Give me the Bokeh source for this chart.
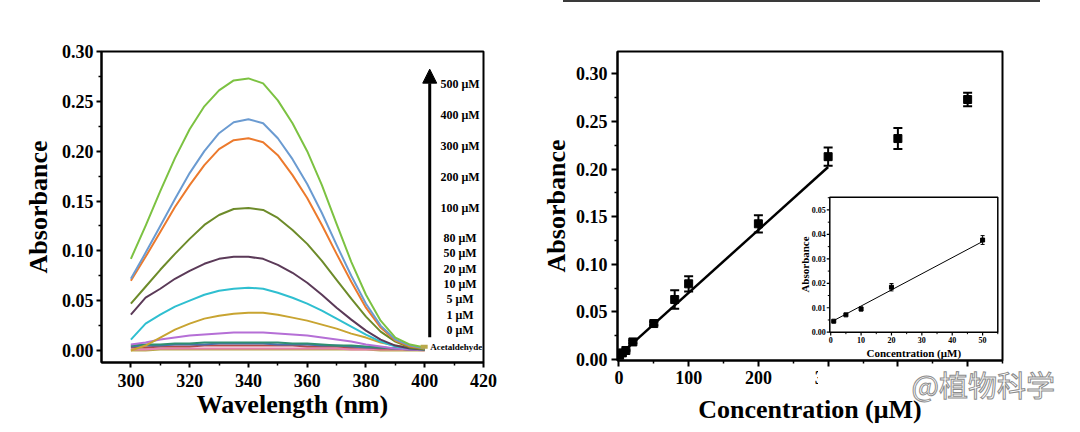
import numpy as np
from bokeh.plotting import figure
from bokeh.layouts import row, column
from bokeh.models import (Range1d, FixedTicker, NumeralTickFormatter, Arrow,
                          NormalHead, Div, Spacer)
from bokeh.core.properties import value
from bokeh.embed import file_html
from bokeh.resources import INLINE

FONT = "Liberation Serif"

# ---------------- data: spectra (left panel) ----------------
wavelength = [300, 305, 310, 315, 320, 325, 330, 335, 340, 345, 350,
              355, 360, 365, 370, 375, 380, 385, 390, 395, 400]

abs_500 = [0.092, 0.125, 0.160, 0.193, 0.222, 0.245, 0.261, 0.271, 0.273, 0.268, 0.251,
           0.228, 0.200, 0.166, 0.127, 0.089, 0.056, 0.030, 0.013, 0.006, 0.003]
abs_400 = [0.072, 0.098, 0.125, 0.152, 0.178, 0.200, 0.218, 0.229, 0.232, 0.228, 0.213,
           0.192, 0.167, 0.138, 0.106, 0.075, 0.047, 0.025, 0.011, 0.005, 0.002]
abs_300 = [0.070, 0.094, 0.119, 0.144, 0.166, 0.186, 0.202, 0.211, 0.213, 0.209, 0.196,
           0.176, 0.153, 0.126, 0.097, 0.069, 0.043, 0.023, 0.010, 0.004, 0.002]
abs_200 = [0.047, 0.064, 0.081, 0.097, 0.112, 0.126, 0.136, 0.142, 0.143, 0.141, 0.133,
           0.121, 0.107, 0.090, 0.071, 0.052, 0.034, 0.019, 0.009, 0.003, 0.001]
abs_100 = [0.036, 0.053, 0.062, 0.072, 0.080, 0.087, 0.092, 0.094, 0.094, 0.092, 0.086,
           0.078, 0.068, 0.056, 0.043, 0.031, 0.020, 0.011, 0.005, 0.002, 0.001]
abs_80 = [0.011, 0.027, 0.036, 0.044, 0.050, 0.056, 0.060, 0.062, 0.063, 0.062, 0.058,
          0.053, 0.047, 0.040, 0.032, 0.024, 0.016, 0.009, 0.004, 0.002, 0.001]
abs_50 = [0.000, 0.005, 0.013, 0.021, 0.027, 0.032, 0.035, 0.037, 0.038, 0.038, 0.036,
          0.033, 0.030, 0.026, 0.022, 0.017, 0.013, 0.008, 0.005, 0.003, 0.002]
abs_20 = [0.006, 0.008, 0.011, 0.013, 0.015, 0.016, 0.017, 0.018, 0.018, 0.018, 0.017,
          0.016, 0.015, 0.013, 0.011, 0.009, 0.006, 0.004, 0.002, 0.001, 0.001]
abs_10 = [0.005, 0.006, 0.006, 0.007, 0.007, 0.008, 0.008, 0.008, 0.008, 0.008, 0.008,
          0.007, 0.007, 0.006, 0.005, 0.005, 0.004, 0.003, 0.002, 0.002, 0.001]
abs_5 = [0.004, 0.005, 0.005, 0.006, 0.006, 0.006, 0.007, 0.007, 0.007, 0.007, 0.006,
         0.006, 0.006, 0.005, 0.005, 0.004, 0.003, 0.003, 0.002, 0.001, 0.001]
abs_1 = [0.003, 0.003, 0.004, 0.004, 0.004, 0.005, 0.005, 0.005, 0.005, 0.005, 0.005,
         0.005, 0.004, 0.004, 0.004, 0.003, 0.003, 0.002, 0.002, 0.001, 0.001]
abs_0 = [0.001, 0.001, 0.002, 0.002, 0.002, 0.002, 0.002, 0.002, 0.002, 0.002, 0.002,
         0.002, 0.002, 0.002, 0.002, 0.001, 0.001, 0.001, 0.001, 0.001, 0.000]
abs_acet = [0.000, 0.000, 0.001, 0.001, 0.001, 0.001, 0.001, 0.001, 0.001, 0.001, 0.001,
            0.001, 0.001, 0.001, 0.001, 0.001, 0.001, 0.000, 0.000, 0.000, 0.000]

spectra_labels = ["500 μM", "400 μM", "300 μM", "200 μM", "100 μM", "80 μM",
                  "50 μM", "20 μM", "10 μM", "5 μM", "1 μM", "0 μM"]
spectra_values = [abs_500, abs_400, abs_300, abs_200, abs_100, abs_80,
                  abs_50, abs_20, abs_10, abs_5, abs_1, abs_0]
acet_label = "Acetaldehyde"

wl_ticks = [300, 320, 340, 360, 380, 400, 420]
abs_ticks = [0.00, 0.05, 0.10, 0.15, 0.20, 0.25, 0.30]

# ---------------- data: calibration (right panel) ----------------
conc = [1, 5, 10, 20, 50, 80, 100, 200, 300, 400, 500]
conc_abs = [0.0045, 0.0070, 0.0095, 0.0185, 0.0378, 0.063, 0.0795, 0.1425, 0.213, 0.232, 0.273]
conc_err = [0.0003, 0.0003, 0.0008, 0.0015, 0.0018, 0.0098, 0.0080, 0.0090, 0.0096, 0.0110, 0.0070]
fit_slope = 0.00066
fit_intercept = 0.0041
fit_x_main = [0, 300]
conc_ticks = [0, 100, 200, 300, 400, 500]

inset_conc = [1, 5, 10, 20, 50]
inset_abs = [0.0045, 0.0071, 0.0095, 0.0184, 0.0377]
inset_err = [0.0002, 0.0003, 0.0008, 0.0015, 0.0018]
fit_x_inset = [1, 50]
inset_x_ticks = [0, 10, 20, 30, 40, 50]
inset_y_ticks = [0.00, 0.01, 0.02, 0.03, 0.04, 0.05]

watermark = "@植物科学"

# ---------------- styles ----------------
colors = ["#7cc242", "#6b9bd1", "#ec7a2d", "#6d8b2a", "#5b3a58", "#2fbfd0",
          "#c8a431", "#b56fd6", "#2f8f70", "#4a6fb0", "#b04a4a", "#e77fb0"]
acet_color = "#b9a94a"
TOP = 49


def style_axes(p, tick_out):
    for ax in (p.xaxis[0], p.yaxis[0]):
        ax.axis_line_width = 2
        ax.major_tick_line_width = 2
        ax.minor_tick_line_width = 1.5
        ax.major_tick_out = tick_out
        ax.major_tick_in = 0
        ax.minor_tick_out = 3
        ax.minor_tick_in = 0
        ax.major_label_text_font = FONT
        ax.major_label_text_font_style = "bold"
        ax.major_label_text_font_size = "18px"
        ax.major_label_text_color = "black"
        ax.axis_label_text_font = FONT
        ax.axis_label_text_font_style = "bold"
        ax.axis_label_text_font_size = "26px"
        ax.axis_label_text_color = "black"
    p.xgrid.visible = False
    p.ygrid.visible = False
    p.outline_line_color = "black"
    p.outline_line_width = 2
    p.outline_line_alpha = 1
    p.background_fill_color = "white"
    p.border_fill_color = "white"


# ---------------- left panel ----------------
p1 = figure(frame_width=382, frame_height=311, min_border_left=101, min_border_right=53,
            min_border_top=TOP, min_border_bottom=62,
            x_range=Range1d(290, 420), y_range=Range1d(-0.012, 0.30),
            output_backend="svg", toolbar_location=None, margin=0)
style_axes(p1, 5)
p1.xaxis.axis_label = "Wavelength (nm)"
p1.yaxis.axis_label = "Absorbance"
p1.xaxis.ticker = FixedTicker(ticks=wl_ticks, minor_ticks=[t + 10 for t in wl_ticks[:-1]])
p1.yaxis.ticker = FixedTicker(ticks=abs_ticks, minor_ticks=[t + 0.025 for t in abs_ticks[:-1]])
p1.yaxis.formatter = NumeralTickFormatter(format="0.00")
p1.xaxis.major_label_standoff = 6
p1.xaxis.axis_label_standoff = 0
p1.yaxis.major_label_standoff = 3
p1.yaxis.axis_label_standoff = 6

p1.line(wavelength, abs_acet, line_color=acet_color, line_width=2)
for vals, col in reversed(list(zip(spectra_values, colors))):
    p1.line(wavelength, vals, line_color=col, line_width=2, line_join="round")

p1.add_layout(Arrow(x_start=401.7, y_start=0.0133, x_end=401.7, y_end=0.2823,
                    line_width=3, line_color="black",
                    end=NormalHead(size=14, fill_color="black", line_color="black")))
label_y = [0.2669, 0.2358, 0.2047, 0.1739, 0.1432, 0.1127,
           0.0976, 0.0820, 0.0669, 0.0515, 0.0361, 0.0208]
p1.text(x=[412.0] * len(spectra_labels), y=label_y, text=spectra_labels,
        text_font=value(FONT), text_font_style="bold", text_font_size="12px",
        text_align="center", text_baseline="middle", text_color="black")
p1.quad(left=[398.6], right=[401.0], bottom=[0.0018], top=[0.0058],
        fill_color=acet_color, line_color=None)
p1.text(x=[401.9], y=[0.0040], text=[acet_label],
        text_font=value(FONT), text_font_style="bold", text_font_size="9px",
        text_align="left", text_baseline="middle", text_color="black")

# ---------------- right panel ----------------
p2 = figure(frame_width=385, frame_height=309, min_border_left=81, min_border_right=70,
            min_border_top=TOP, min_border_bottom=64,
            x_range=Range1d(-2, 550), y_range=Range1d(-0.001, 0.3234),
            output_backend="svg", toolbar_location=None, margin=0)
style_axes(p2, 6)
p2.xaxis.axis_label = "Concentration (μM)"
p2.yaxis.axis_label = "Absorbance"
p2.xaxis.ticker = FixedTicker(ticks=conc_ticks, minor_ticks=[t + 50 for t in conc_ticks])
p2.yaxis.ticker = FixedTicker(ticks=abs_ticks, minor_ticks=[t + 0.025 for t in abs_ticks[:-1]])
p2.yaxis.formatter = NumeralTickFormatter(format="0.00")
p2.xaxis.major_label_standoff = 4
p2.xaxis.axis_label_standoff = 8
p2.yaxis.major_label_standoff = 4
p2.yaxis.axis_label_standoff = 2

fx = np.array(fit_x_main, dtype=float)
p2.line(fx, fit_slope * fx + fit_intercept, line_color="black", line_width=2.5)

c = np.array(conc, dtype=float)
a = np.array(conc_abs)
e = np.array(conc_err)
p2.segment(x0=c, y0=a - e, x1=c, y1=a + e, line_color="black", line_width=2)
p2.scatter(c, a + e, marker="dash", size=9, line_color="black", line_width=2)
p2.scatter(c, a - e, marker="dash", size=9, line_color="black", line_width=2)
p2.scatter(c, a, marker="square", size=8, fill_color="black", line_color="black")

# ---- inset drawn in extra ranges mapped onto a sub-rectangle of the frame ----
p2.extra_x_ranges = {"ix": Range1d(-70.18, 56.55)}
p2.extra_y_ranges = {"iy": Range1d(-0.01157, 0.1148)}
IX0, IX1, IY0, IY1 = -0.3, 55.0, 0.0, 0.0552
kw = dict(x_range_name="ix", y_range_name="iy")
p2.quad(left=[IX0], right=[IX1], bottom=[IY0], top=[IY1], fill_color="white",
        line_color="black", line_width=1.5, **kw)

xt = np.array(inset_x_ticks, dtype=float)
xm = xt + 5
p2.segment(x0=xt, y0=[IY0] * len(xt), x1=xt, y1=[IY0 - 0.0013] * len(xt),
           line_color="black", line_width=1.2, **kw)
p2.segment(x0=xm, y0=[IY0] * len(xm), x1=xm, y1=[IY0 - 0.0008] * len(xm),
           line_color="black", line_width=1, **kw)
yt = np.array(inset_y_ticks, dtype=float)
ym = yt + 0.005
p2.segment(x0=[IX0] * len(yt), y0=yt, x1=[IX0 - 1.0] * len(yt), y1=yt,
           line_color="black", line_width=1.2, **kw)
p2.segment(x0=[IX0] * len(ym), y0=ym, x1=[IX0 - 0.66] * len(ym), y1=ym,
           line_color="black", line_width=1, **kw)

p2.text(x=[IX0] * len(yt), y=yt, text=[f"{v:.2f}" for v in inset_y_ticks], x_offset=-4,
        text_font=value(FONT), text_font_style="bold", text_font_size="8px",
        text_align="right", text_baseline="middle", text_color="black", **kw)
p2.text(x=xt, y=[IY0] * len(xt), text=[str(v) for v in inset_x_ticks], y_offset=8,
        text_font=value(FONT), text_font_style="bold", text_font_size="8px",
        text_align="center", text_baseline="middle", text_color="black", **kw)
p2.text(x=[27.35], y=[IY0], text=["Concentration (μM)"], y_offset=21,
        text_font=value(FONT), text_font_style="bold", text_font_size="11px",
        text_align="center", text_baseline="middle", text_color="black", **kw)
p2.text(x=[IX0], y=[0.0277], text=["Absorbance"], x_offset=-25, angle=np.pi / 2,
        text_font=value(FONT), text_font_style="bold", text_font_size="11px",
        text_align="center", text_baseline="middle", text_color="black", **kw)

fxi = np.array(fit_x_inset, dtype=float)
p2.line(fxi, fit_slope * fxi + fit_intercept, line_color="black", line_width=1, **kw)
ic = np.array(inset_conc, dtype=float)
ia = np.array(inset_abs)
ie = np.array(inset_err)
p2.segment(x0=ic, y0=ia - ie, x1=ic, y1=ia + ie, line_color="black", line_width=1, **kw)
p2.scatter(ic, ia + ie, marker="dash", size=4, line_color="black", line_width=1, **kw)
p2.scatter(ic, ia - ie, marker="dash", size=4, line_color="black", line_width=1, **kw)
p2.scatter(ic, ia, marker="square", size=4, fill_color="black", line_color="black", **kw)

# thin dark rule along the very top of the right half
top_rule = row(Spacer(width=563, height=2, margin=0),
               Div(text="", width=477, height=2, margin=0,
                   styles={"background-color": "#3a3a3a"}),
               margin=0)

# hollow grey watermark overlaid on the lower right (white band behind it)
wm = Div(text=watermark, width=237, height=32, margin=0,
         styles={"position": "absolute", "left": "818px", "top": "368px",
                 "font-family": "Noto Sans CJK SC", "font-size": "29px",
                 "color": "white", "-webkit-text-stroke": "1px #8c8c8c",
                 "background-color": "white", "text-align": "right",
                 "z-index": "10", "line-height": "32px",
                 "pointer-events": "none"})

layout = column(top_rule, row(p1, p2, margin=0), wm, margin=0)
open("out.html", "w").write(file_html(layout, INLINE))
